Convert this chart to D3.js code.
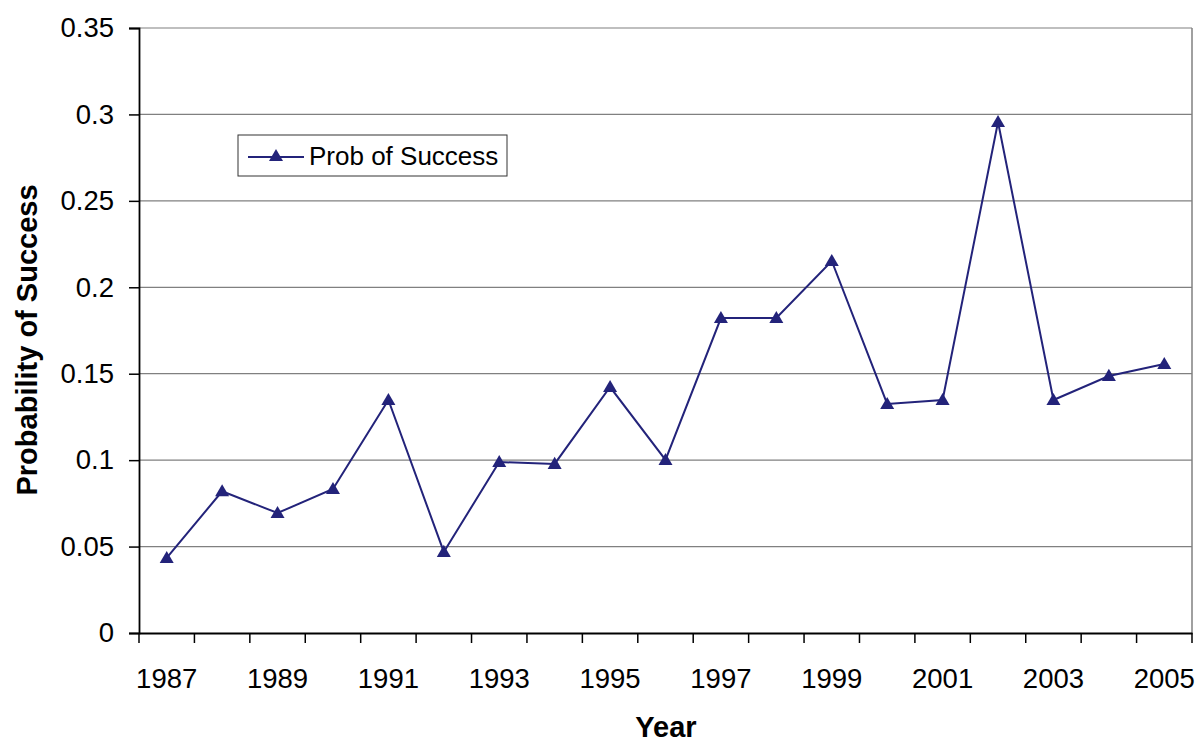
<!DOCTYPE html>
<html>
<head>
<meta charset="utf-8">
<script src="https://cdn.jsdelivr.net/npm/d3@7"></script>
<style>
  html, body { margin: 0; padding: 0; background: #fff; overflow: hidden; }
  svg { display: block; }
  text { font-family: "Liberation Sans", Arial, sans-serif; }
</style>
</head>
<body>
<div id="chart"></div>
<script>
const years = ["1987", "1988", "1989", "1990", "1991", "1992", "1993", "1994", "1995", "1996",
    "1997", "1998", "1999", "2000", "2001", "2002", "2003", "2004", "2005"];
const probSuccess = [0.0434, 0.082, 0.0694, 0.0833, 0.1348, 0.0469, 0.0989, 0.0978, 0.1423, 0.1001,
    0.1822, 0.1822, 0.2152, 0.1325, 0.1348, 0.2956, 0.1348, 0.1487, 0.1556];
const yTicks = [0, 0.05, 0.1, 0.15, 0.2, 0.25, 0.3, 0.35];
const xLabels = ["1987", "1989", "1991", "1993", "1995", "1997", "1999", "2001", "2003", "2005"];

const width = 1199, height = 743;
const margin = {top: 28, right: 7, bottom: 110, left: 139};
const innerWidth = width - margin.left - margin.right;
const innerHeight = height - margin.top - margin.bottom;
const lineColor = "#23237a";
const tickFont = 27.5;
const fontFamily = '"Liberation Sans", Arial, sans-serif';

const svg = d3.select("#chart").append("svg")
    .attr("width", width)
    .attr("height", height)
    .attr("viewBox", `0 0 ${width} ${height}`);

const chart = svg.append("g")
    .attr("transform", `translate(${margin.left}, ${margin.top})`);

const x = d3.scaleBand()
    .domain(years)
    .range([0, innerWidth]);

const y = d3.scaleLinear()
    .domain([0, 0.35])
    .range([innerHeight, 0]);

// gridlines
chart.append("g")
    .selectAll("line")
    .data(yTicks.filter(d => d > 0))
    .join("line")
    .attr("x1", 0)
    .attr("x2", innerWidth)
    .attr("y1", d => y(d))
    .attr("y2", d => y(d))
    .attr("stroke", "#808080")
    .attr("stroke-width", 1.2);

// right border
chart.append("line")
    .attr("x1", innerWidth).attr("x2", innerWidth)
    .attr("y1", 0).attr("y2", innerHeight)
    .attr("stroke", "#808080")
    .attr("stroke-width", 1.5);

const yAxis = d3.axisLeft(y)
    .tickValues(yTicks)
    .tickSize(10)
    .tickPadding(15)
    .tickFormat(d => d3.format("")(+d.toFixed(2)));

chart.append("g")
    .attr("class", "axis")
    .call(yAxis)
    .attr("font-size", tickFont)
    .attr("font-family", fontFamily);

// labels on every other year, tick marks between categories
const xAxis = d3.axisBottom(x)
    .tickValues(xLabels)
    .tickSize(0)
    .tickPadding(35);

const gx = chart.append("g")
    .attr("class", "axis")
    .attr("transform", `translate(0, ${innerHeight})`)
    .call(xAxis)
    .attr("font-size", tickFont)
    .attr("font-family", fontFamily);

gx.append("g")
    .selectAll("line")
    .data(d3.range(years.length + 1))
    .join("line")
    .attr("x1", i => i * x.step())
    .attr("x2", i => i * x.step())
    .attr("y1", 0)
    .attr("y2", 10)
    .attr("stroke", "#000")
    .attr("stroke-width", 1.5);

chart.selectAll(".axis path").attr("stroke", "#000").attr("stroke-width", 1.8);
chart.selectAll(".axis .tick line").attr("stroke", "#000").attr("stroke-width", 1.5);
chart.selectAll(".axis text").attr("fill", "#000");

// line
const line = d3.line()
    .x((d, i) => x(years[i]) + x.bandwidth() / 2)
    .y(d => y(d));

chart.append("path")
    .datum(probSuccess)
    .attr("fill", "none")
    .attr("stroke", lineColor)
    .attr("stroke-width", 2)
    .attr("d", line);

const tri = d3.symbol().type(d3.symbolTriangle).size(85);

chart.selectAll(".marker")
    .data(probSuccess)
    .join("path")
    .attr("class", "marker")
    .attr("d", tri)
    .attr("transform", (d, i) => `translate(${x(years[i]) + x.bandwidth() / 2}, ${y(d) + 1})`)
    .attr("fill", lineColor);

// legend
const legend = svg.append("g")
    .attr("transform", "translate(238, 135)");
legend.append("rect")
    .attr("width", 269)
    .attr("height", 41)
    .attr("fill", "#fff")
    .attr("stroke", "#333")
    .attr("stroke-width", 1);
legend.append("line")
    .attr("x1", 10).attr("x2", 66)
    .attr("y1", 22).attr("y2", 22)
    .attr("stroke", lineColor)
    .attr("stroke-width", 2);
legend.append("path")
    .attr("d", tri)
    .attr("transform", "translate(38, 22)")
    .attr("fill", lineColor);
legend.append("text")
    .attr("x", 71)
    .attr("y", 30)
    .attr("font-size", 26)
    .text("Prob of Success");

// axis titles
svg.append("text")
    .attr("x", 666)
    .attr("y", 737)
    .attr("text-anchor", "middle")
    .attr("font-size", 29)
    .attr("font-weight", "bold")
    .text("Year");

svg.append("text")
    .attr("transform", `translate(37, 340) rotate(-90)`)
    .attr("text-anchor", "middle")
    .attr("font-size", 29)
    .attr("font-weight", "bold")
    .text("Probability of Success");
</script>
</body>
</html>
